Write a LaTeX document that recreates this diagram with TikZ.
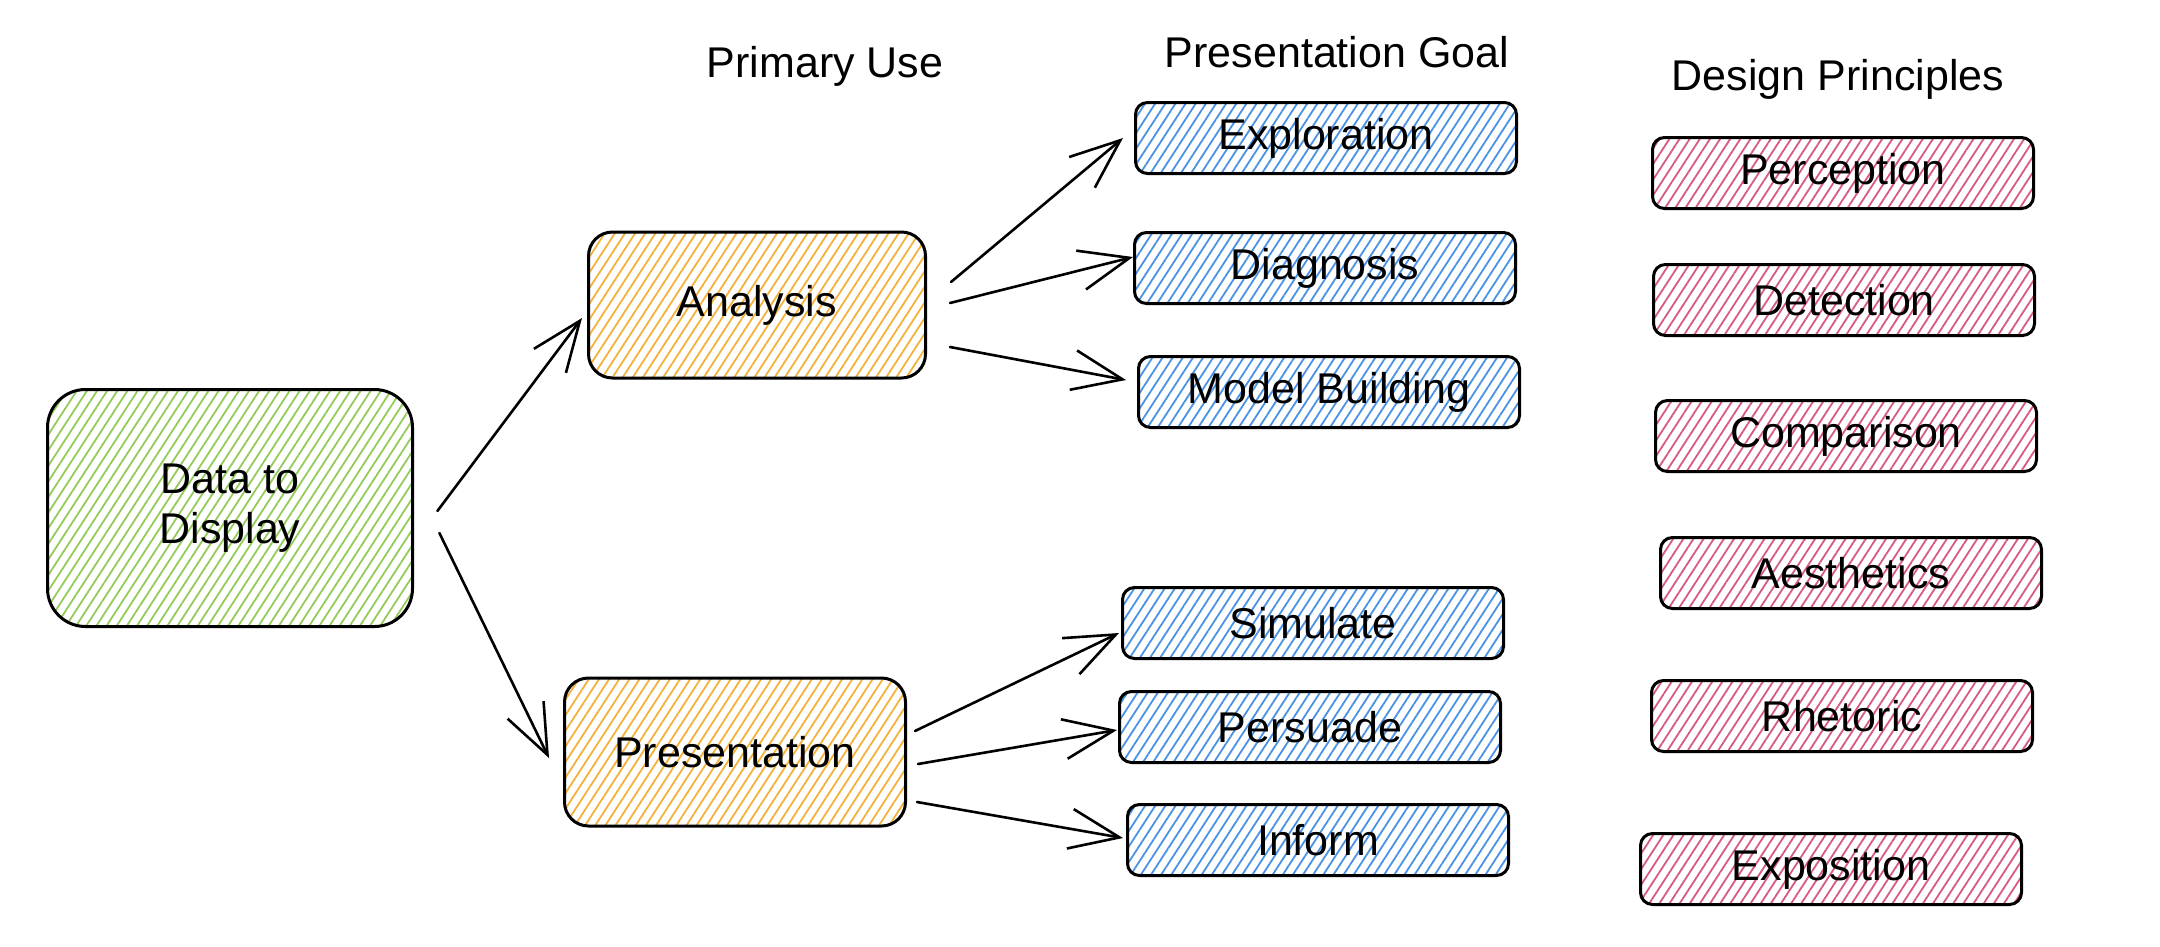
\documentclass[tikz,border=0pt]{standalone}
\usepackage{fontspec}
\setmainfont{Liberation Sans}
\usetikzlibrary{patterns.meta,arrows.meta}
\definecolor{cgreen}{HTML}{95CB5A}
\definecolor{corange}{HTML}{F5B23A}
\definecolor{cblue}{HTML}{4A92E3}
\definecolor{cpink}{HTML}{D65A84}
\newcommand{\boxfont}{\fontsize{43}{50}\selectfont}
\newcommand{\headfont}{\fontsize{43}{50}\selectfont}
\tikzset{
  x=1pt,y=-1pt,
  hatch/.style={pattern={Lines[angle=57,distance=8.5pt,line width=1.8pt]}, pattern color=#1},
  box/.style={draw=black, line width=3pt, rounded corners=12pt, minimum width=381pt,
    minimum height=71pt, inner sep=0pt, font=\boxfont, align=center},
  goalbox/.style={box, hatch=cblue},
  princbox/.style={box, hatch=cpink},
  usebox/.style={box, hatch=corange, rounded corners=24pt},
  databox/.style={box, hatch=cgreen, rounded corners=38pt, minimum width=365pt, minimum height=237pt},
  head/.style={font=\headfont, inner sep=0pt},
  arr/.style={line width=2.6pt, line cap=round, -{Straight Barb[length=50pt,width=40pt,line width=2.6pt]}}
}
\begin{document}
\begin{tikzpicture}
\useasboundingbox[fill=white] (0,0) rectangle (2160,946);

% headings
\node[head] (hUse) at (825,66) {Primary Use};
\node[head] (hGoal) at (1337,52) {Presentation Goal};
\node[head] (hPrin) at (1838,79) {Design Principles};

% root
\node[databox] (data) at (230,508) {Data to\\Display};

% primary use
\node[usebox, minimum width=337pt, minimum height=146pt] (an) at (757,305) {Analysis};
\node[usebox, minimum width=341pt, minimum height=148pt] (pr) at (735,752) {Presentation};

% presentation goals
\node[goalbox] (ex) at (1326,138) {Exploration};
\node[goalbox] (di) at (1325,268) {Diagnosis};
\node[goalbox] (mb) at (1329,392) {Model Building};
\node[goalbox] (si) at (1313,623) {Simulate};
\node[goalbox] (pe) at (1310,727) {Persuade};
\node[goalbox] (inf) at (1318,840) {Inform};

% design principles
\node[princbox] (p1) at (1843,173) {Perception};
\node[princbox] (p2) at (1844,300) {Detection};
\node[princbox] (p3) at (1846,436) {Comparison};
\node[princbox] (p4) at (1851,573) {Aesthetics};
\node[princbox] (p5) at (1842,716) {Rhetoric};
\node[princbox] (p6) at (1831,869) {Exposition};

% connectors
\draw[arr] ([shift={(24,3)}]data.east) -- ([shift={(-5,13)}]an.west);
\draw[arr] ([shift={(26,25)}]data.east) -- ([shift={(-14,6)}]pr.west);

\draw[arr] ([shift={(24,-23)}]an.east) -- ([shift={(-11,0)}]ex.west);
\draw[arr] ([shift={(23,-2)}]an.east) -- ([shift={(0,-11)}]di.west);
\draw[arr] ([shift={(23,42)}]an.east) -- ([shift={(-11,-12)}]mb.west);

\draw[arr] ([shift={(8,-21)}]pr.east) -- ([shift={(-2,10)}]si.west);
\draw[arr] ([shift={(11,12)}]pr.east) -- ([shift={(-1,3)}]pe.west);
\draw[arr] ([shift={(10,50)}]pr.east) -- ([shift={(-3,-2)}]inf.west);
\end{tikzpicture}
\end{document}
